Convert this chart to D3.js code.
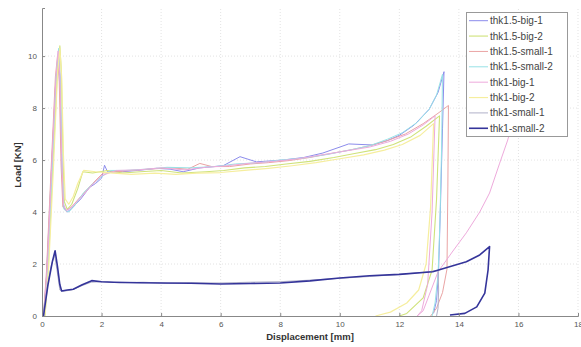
<!DOCTYPE html>
<html><head><meta charset="utf-8">
<script src="https://cdn.jsdelivr.net/npm/d3@7"></script>
<style>body{margin:0;background:#fff}svg{display:block}</style>
</head><body>
<svg id="c" width="581" height="347"></svg>
<script>
const seriesNames = ["thk1.5-big-1","thk1.5-big-2","thk1.5-small-1","thk1.5-small-2","thk1-big-1","thk1-big-2","thk1-small-1","thk1-small-2"];
const seriesColors = ["#8c8cec","#cfe27a","#eaa4a4","#98e2e6","#eeaadc","#f6ee9e","#b0b0c8","#34349a"];
const seriesWidths = [1,1.1,1,1,1,1.2,1,1.6];
const xTicks = [0,2,4,6,8,10,12,14,16,18];
const yTicks = [0,2,4,6,8,10];

const big1 = [[0.05,0],[0.15,1.5],[0.3,5.2],[0.45,8.8],[0.55,10.1],[0.6,9.2],[0.66,6],[0.72,4.2],[0.85,4.0],[1.0,4.15],[1.3,4.5],[1.6,4.95],[1.8,5.1],[2.0,5.3],[2.1,5.8],[2.2,5.55],[2.7,5.55],[3.2,5.6],[3.85,5.68],[4.3,5.65],[4.74,5.55],[5.3,5.7],[6.08,5.78],[6.65,6.13],[7.2,5.93],[8.1,6.0],[8.8,6.1],[9.43,6.27],[10.3,6.62],[11.1,6.58],[11.6,6.75],[12.0,6.95],[12.5,7.35],[13.0,7.95],[13.3,8.6],[13.5,9.4],[13.45,7.2],[13.38,4.2],[13.32,1.8],[13.25,0.6],[13.15,0.1]];
const big2 = [[0.1,0],[0.2,1.6],[0.35,5.4],[0.5,9.0],[0.6,10.4],[0.65,9.4],[0.7,6.5],[0.75,4.4],[0.85,4.1],[1.0,4.3],[1.2,4.9],[1.37,5.55],[1.7,5.5],[2.2,5.6],[2.7,5.5],[3.3,5.55],[4.0,5.6],[4.7,5.5],[5.5,5.55],[6.1,5.6],[6.8,5.7],[7.5,5.75],[8.2,5.85],[9.0,5.95],[9.8,6.1],[10.5,6.25],[11.2,6.4],[11.8,6.6],[12.4,6.9],[12.9,7.3],[13.35,7.7],[13.25,4.5],[13.1,1.77],[12.8,0.7],[12.25,0.1],[12.0,0]];
const small1 = [[0.05,0],[0.15,1.7],[0.3,5.5],[0.45,9.2],[0.52,10.0],[0.58,9.0],[0.64,5.8],[0.7,4.2],[0.8,4.05],[1.0,4.2],[1.3,4.6],[1.7,5.1],[2.05,5.5],[2.5,5.55],[3.0,5.6],[3.6,5.65],[4.3,5.7],[4.9,5.65],[5.3,5.87],[5.7,5.75],[6.3,5.75],[7.0,5.85],[7.6,5.9],[8.3,5.98],[9.0,6.1],[9.7,6.25],[10.4,6.4],[11.0,6.55],[11.6,6.75],[12.2,7.0],[12.8,7.4],[13.3,7.8],[13.65,8.1],[13.63,5.0],[13.6,1.8],[13.45,0.9],[13.25,0.3],[13.05,0]];
const small2 = [[0.08,0],[0.2,2.0],[0.35,5.8],[0.48,9.3],[0.56,10.3],[0.62,9.0],[0.68,5.5],[0.74,4.1],[0.9,4.0],[1.1,4.25],[1.4,4.75],[1.72,5.1],[2.0,5.35],[2.3,5.6],[2.8,5.6],[3.5,5.65],[4.2,5.72],[5.0,5.7],[5.8,5.75],[6.5,5.85],[7.3,5.9],[8.0,6.0],[8.8,6.08],[9.6,6.22],[10.4,6.4],[11.0,6.55],[11.6,6.8],[12.1,7.05],[12.6,7.45],[13.0,7.95],[13.25,8.5],[13.45,9.3],[13.42,6.5],[13.36,3.5],[13.3,1.6],[13.2,0.5],[13.1,0]];
const thkBig1 = [[0.06,0],[0.18,1.9],[0.32,5.6],[0.47,9.2],[0.54,10.2],[0.6,9.3],[0.66,6.2],[0.72,4.3],[0.82,4.05],[1.0,4.2],[1.3,4.55],[1.65,5.0],[2.0,5.4],[2.5,5.6],[3.2,5.62],[4.0,5.7],[4.8,5.62],[5.5,5.72],[6.2,5.78],[7.0,5.88],[7.8,5.95],[8.6,6.05],[9.4,6.2],[10.2,6.35],[11.0,6.5],[11.7,6.72],[12.3,7.0],[12.8,7.35],[13.2,7.7],[13.1,4.0],[12.95,1.2],[12.75,0.2],[12.6,0],[12.8,0.2],[13.0,0.8],[13.3,1.7],[13.8,2.5],[14.25,3.2],[14.7,4.0],[15.03,4.73],[15.37,5.88],[15.64,6.77],[15.9,7.9],[16.2,9.2]];
const thkBig2 = [[0.1,0],[0.22,1.8],[0.38,5.6],[0.52,9.3],[0.6,10.3],[0.66,9.2],[0.72,6.2],[0.78,4.5],[0.9,4.3],[1.05,4.6],[1.2,5.1],[1.4,5.6],[1.8,5.55],[2.4,5.5],[3.0,5.45],[3.8,5.5],[4.5,5.45],[5.2,5.5],[6.0,5.52],[6.8,5.6],[7.6,5.68],[8.4,5.78],[9.2,5.9],[10.0,6.05],[10.8,6.2],[11.5,6.38],[12.1,6.6],[12.7,6.95],[13.15,7.4],[13.05,4.2],[12.9,2.0],[12.65,1.0],[12.25,0.5],[11.7,0.15],[11.2,0]];
const thkSmall1 = [[0.02,0],[0.15,0.9],[0.3,1.9],[0.42,2.35],[0.5,1.8],[0.6,1.0],[0.7,0.95],[1.0,1.0],[1.3,1.15],[1.65,1.3],[2.0,1.32],[2.6,1.28],[3.4,1.3],[4.2,1.26],[5.0,1.28],[6.0,1.27],[7.0,1.3],[8.0,1.32],[9.0,1.38],[10.0,1.45],[11.0,1.52],[12.0,1.6],[12.8,1.68],[13.3,1.75],[13.32,1.0],[13.3,0.3],[13.25,0]];
const thkSmall2 = [[0.05,0],[0.2,1.2],[0.35,2.1],[0.44,2.51],[0.52,1.9],[0.6,1.2],[0.66,0.96],[0.85,1.0],[1.05,1.03],[1.35,1.2],[1.67,1.36],[2.0,1.32],[2.4,1.3],[3.2,1.28],[4.0,1.27],[5.0,1.26],[6.0,1.23],[7.0,1.25],[8.0,1.27],[9.0,1.35],[10.0,1.46],[11.0,1.55],[12.0,1.6],[13.12,1.7],[14.25,2.09],[14.7,2.35],[15.03,2.67],[14.98,1.77],[14.87,0.88],[14.6,0.35],[14.2,0.1],[13.7,0.04]];
const seriesData = [big1,big2,small1,small2,thkBig1,thkBig2,thkSmall1,thkSmall2];

const svg = d3.select("#c");
const x = d3.scaleLinear().domain([0,18]).range([42,578]);
const y = d3.scaleLinear().domain([0,11.85]).range([316,8]);

// grid
const g = svg.append("g");
g.selectAll(".gx").data(xTicks.slice(1)).join("line")
  .attr("x1",d=>x(d)).attr("x2",d=>x(d)).attr("y1",y(0)).attr("y2",y(11.85))
  .attr("stroke","#dcdcdc").attr("stroke-width",0.8).attr("stroke-dasharray","1,2");
g.selectAll(".gy").data(yTicks.slice(1)).join("line")
  .attr("x1",x(0)).attr("x2",x(18)).attr("y1",d=>y(d)).attr("y2",d=>y(d))
  .attr("stroke","#dcdcdc").attr("stroke-width",0.8).attr("stroke-dasharray","1,2");

// lines
const line = d3.line().x(d=>x(d[0])).y(d=>y(d[1]));
const plot = svg.append("g");
seriesData.forEach((s,i)=>{
  plot.append("path").attr("d",line(s)).attr("fill","none")
    .attr("stroke",seriesColors[i]).attr("stroke-width",seriesWidths[i]).attr("stroke-linejoin","round");
});

// axes
const xAxis = d3.axisBottom(x).tickValues(xTicks).tickSize(-3).tickPadding(5).tickFormat(d3.format("d"));
const yAxis = d3.axisLeft(y).tickValues(yTicks).tickSize(-3).tickPadding(5).tickFormat(d3.format("d"));
const gx = svg.append("g").attr("transform",`translate(0,${y(0)})`).call(xAxis);
const gy = svg.append("g").attr("transform",`translate(${x(0)},0)`).call(yAxis);
[gx,gy].forEach(a=>{
  a.select(".domain").attr("stroke","#888");
  a.selectAll(".tick line").attr("stroke","#888");
  a.selectAll("text").attr("fill","#555").style("font-family","Liberation Sans, Arial, sans-serif").style("font-size","8px");
});

svg.append("text").attr("x",310).attr("y",340).attr("text-anchor","middle")
  .style("font-family","Liberation Sans, Arial, sans-serif").style("font-size","9.5px").style("font-weight","bold").attr("fill","#333")
  .text("Displacement [mm]");
svg.append("text").attr("transform","translate(21,165) rotate(-90)").attr("text-anchor","middle")
  .style("font-family","Liberation Sans, Arial, sans-serif").style("font-size","9.5px").style("font-weight","bold").attr("fill","#333")
  .text("Load [KN]");

// legend
const lg = svg.append("g");
lg.append("rect").attr("x",466.5).attr("y",12.5).attr("width",101).attr("height",124)
  .attr("fill","#fff").attr("stroke","#999").attr("stroke-width",1);
seriesNames.forEach((n,i)=>{
  const yy = 20.7 + i*15.37;
  lg.append("line").attr("x1",469).attr("x2",488).attr("y1",yy).attr("y2",yy)
    .attr("stroke",seriesColors[i]).attr("stroke-width",seriesWidths[i]);
  lg.append("text").attr("x",490).attr("y",yy+3.5).text(n)
    .style("font-family","Liberation Sans, Arial, sans-serif").style("font-size","10px").attr("fill","#444");
});
</script>
</body></html>
